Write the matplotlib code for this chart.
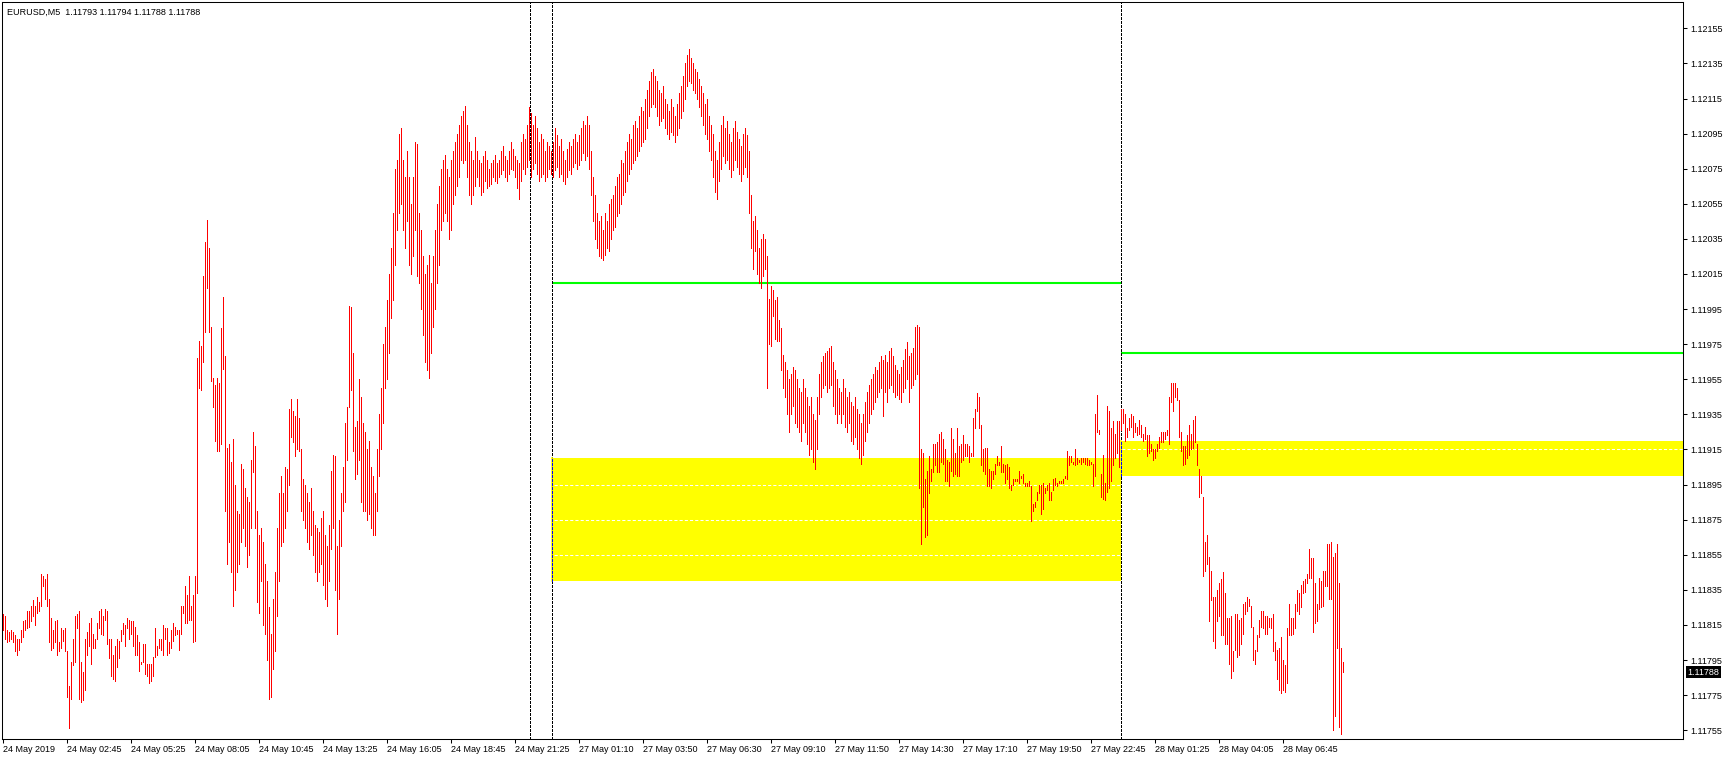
import numpy as np
import matplotlib
matplotlib.use("Agg")
import matplotlib.pyplot as plt
from matplotlib.transforms import blended_transform_factory

# chart header
symbol = "EURUSD,M5"
last_ohlc = [1.11793, 1.11794, 1.11788, 1.11788]
last_price = 1.11788

# bar highs / lows in points (0.00001) above 1.11000, one per M5 bar
base = 1.11
high_pts = [
    821, 820, 812, 811, 812, 811, 809, 807, 807, 812,      # 0
    817, 818, 823, 823, 826, 829, 826, 831, 828, 844,
    843, 841, 844, 830, 819, 812, 817, 818, 805, 813,
    812, 813, 800, 780, 794, 807, 820, 821, 823, 794,
    788, 807, 811, 816, 819, 810, 807, 816, 823, 824,
    820, 824, 823, 807, 807, 798, 803, 807, 806, 812,      # 50
    816, 815, 819, 818, 817, 817, 814, 809, 805, 794,
    804, 804, 793, 793, 793, 797, 813, 803, 807, 807,
    815, 813, 813, 805, 812, 816, 814, 812, 812, 826,
    826, 837, 832, 843, 826, 832, 843, 967, 977, 974,
    1014, 1033, 1046, 1030, 985, 956, 952, 956, 953, 984,  # 100
    1002, 968, 916, 918, 908, 921, 895, 880, 878, 907,
    904, 893, 888, 885, 909, 925, 917, 880, 866, 870,
    862, 850, 840, 825, 810, 830, 845, 870, 890, 900,
    890, 905, 904, 938, 944, 937, 934, 944, 933, 915,
    898, 895, 890, 885, 893, 880, 872, 870, 868, 876,      # 150
    880, 866, 860, 872, 903, 912, 911, 860, 875, 890,
    905, 930, 939, 997, 996, 970, 928, 931, 955, 945,
    930, 925, 915, 920, 905, 900, 890, 915, 935, 950,
    975, 985, 1000, 1015, 1030, 1050, 1075, 1080, 1095, 1098,
    1080, 1070, 1085, 1070, 1055, 1070, 1090, 1089, 1050, 1040,  # 200
    1025, 1015, 1020, 1026, 1010, 1025, 1040, 1055, 1065, 1075,
    1080, 1083, 1075, 1070, 1080, 1085, 1090, 1095, 1100, 1105,
    1108, 1111, 1100, 1090, 1085, 1080, 1093, 1085, 1080, 1078,
    1082, 1085, 1080, 1075, 1078, 1080, 1083, 1078, 1080, 1085,
    1088, 1082, 1080, 1085, 1090, 1086, 1082, 1080, 1078, 1090,  # 250
    1095, 1092, 1100, 1110, 1107, 1100, 1105, 1098, 1090, 1095,
    1092, 1085, 1090, 1088, 1085, 1090, 1098, 1094, 1088, 1092,
    1085, 1080, 1086, 1090, 1088, 1092, 1095, 1090, 1094, 1098,
    1102, 1100, 1105, 1100, 1085, 1070, 1060, 1050, 1045, 1048,
    1040, 1050, 1045, 1055, 1058, 1060, 1065, 1070, 1072, 1080,  # 300
    1078, 1085, 1090, 1095, 1092, 1100, 1102, 1098, 1105, 1110,
    1108, 1115, 1120, 1125, 1130, 1132, 1128, 1125, 1120, 1118,
    1122, 1115, 1112, 1108, 1115, 1110, 1105, 1112, 1118, 1122,
    1128, 1135, 1140, 1143, 1138, 1135, 1132, 1130, 1126, 1122,
    1118, 1112, 1115, 1105, 1100, 1095, 1085, 1080, 1090, 1100,  # 350
    1105, 1098, 1102, 1095, 1090, 1098, 1102, 1096, 1092, 1088,
    1095, 1098, 1094, 1085, 1060, 1045, 1048, 1040, 1030, 1035,
    1038, 1035, 1025, 1001, 1008, 1006, 1000, 1002, 989, 984,
    969, 965, 960, 955, 958, 962, 960, 955, 950, 948,
    955, 950, 945, 940, 945, 935, 932, 945, 958, 965,      # 400
    968, 970, 971, 973, 974, 965, 960, 955, 950, 948,
    955, 950, 945, 948, 942, 940, 945, 938, 935, 930,
    935, 942, 948, 952, 955, 958, 962, 960, 965, 968,
    966, 969, 965, 971, 973, 968, 963, 960, 958, 962,
    966, 972, 976, 968, 970, 973, 985, 986, 985, 915,      # 450
    913, 898, 903, 911, 904, 918, 918, 919, 924, 925,
    921, 915, 909, 908, 927, 921, 913, 927, 917, 918,
    923, 918, 918, 917, 913, 933, 938, 947, 945, 929,
    915, 916, 916, 904, 903, 903, 907, 911, 908, 917,
    907, 906, 907, 905, 895, 898, 898, 898, 903, 900,      # 500
    901, 896, 896, 897, 894, 884, 885, 891, 895, 895,
    896, 893, 895, 896, 891, 898, 899, 896, 897, 897,
    898, 900, 914, 911, 911, 908, 915, 910, 909, 910,
    910, 910, 910, 909, 908, 907, 935, 946, 926, 901,
    912, 896, 940, 937, 927, 931, 924, 931, 931, 938,      # 550
    938, 935, 927, 933, 935, 934, 930, 928, 932, 929,
    924, 928, 923, 923, 918, 915, 915, 918, 922, 925,
    925, 925, 926, 945, 953, 953, 953, 950, 943, 925,
    917, 917, 923, 929, 924, 932, 934, 918, 904, 900,
    888, 862, 866, 854, 846, 831, 831, 835, 839, 841,      # 600
    845, 833, 819, 819, 820, 800, 821, 821, 818, 819,
    827, 828, 831, 830, 826, 814, 801, 809, 818, 823,
    823, 820, 820, 819, 819, 821, 805, 801, 802, 808,
    795, 792, 813, 827, 819, 819, 827, 835, 833, 838,
    840, 841, 844, 858, 853, 853, 839, 827, 842, 840,      # 650
    846, 846, 861, 861, 862, 854, 856, 861, 839, 802,
    794,
]
low_pts = [
    812, 807, 805, 806, 807, 805, 800, 798, 801, 805,      # 0
    808, 812, 813, 814, 817, 820, 815, 822, 823, 826,
    837, 830, 826, 805, 801, 802, 805, 798, 800, 802,
    806, 800, 774, 756, 773, 792, 794, 813, 773, 771,
    772, 778, 798, 803, 793, 802, 802, 807, 813, 810,
    809, 818, 804, 796, 786, 784, 783, 791, 796, 806,      # 50
    810, 803, 813, 807, 810, 803, 798, 798, 789, 793,
    794, 787, 786, 782, 783, 786, 797, 798, 802, 801,
    798, 807, 798, 799, 802, 806, 809, 810, 801, 810,
    822, 816, 816, 818, 818, 805, 806, 833, 950, 949,
    965, 982, 1007, 982, 954, 939, 920, 914, 914, 918,     # 100
    961, 880, 850, 862, 845, 826, 835, 845, 850, 862,
    870, 860, 848, 855, 870, 902, 870, 828, 822, 840,
    815, 810, 795, 773, 774, 790, 800, 820, 840, 860,
    862, 870, 880, 895, 922, 919, 911, 915, 914, 880,
    875, 870, 862, 858, 866, 855, 845, 840, 845, 850,      # 150
    838, 830, 826, 840, 858, 870, 835, 810, 830, 860,
    880, 885, 909, 939, 949, 914, 898, 901, 909, 885,
    880, 880, 875, 878, 870, 866, 866, 880, 900, 915,
    930, 950, 955, 970, 990, 1000, 1020, 1040, 1050, 1055,
    1040, 1030, 1045, 1020, 1015, 1025, 1040, 1014, 1010, 995,  # 200
    980, 965, 960, 956, 970, 985, 995, 1010, 1020, 1040,
    1045, 1050, 1045, 1035, 1040, 1055, 1060, 1065, 1070, 1080,
    1078, 1080, 1070, 1060, 1055, 1060, 1065, 1070, 1065, 1060,
    1062, 1068, 1064, 1065, 1066, 1070, 1068, 1067, 1070, 1072,
    1074, 1070, 1068, 1072, 1075, 1074, 1070, 1064, 1058, 1068,  # 250
    1075, 1072, 1076, 1080, 1070, 1075, 1078, 1072, 1068, 1070,
    1072, 1068, 1070, 1075, 1072, 1070, 1074, 1076, 1070, 1072,
    1068, 1066, 1070, 1074, 1072, 1076, 1078, 1075, 1077, 1080,
    1084, 1080, 1082, 1075, 1060, 1045, 1035, 1030, 1025, 1024,
    1023, 1026, 1030, 1028, 1035, 1040, 1042, 1048, 1050, 1055,  # 300
    1060, 1062, 1068, 1072, 1075, 1078, 1080, 1082, 1085, 1088,
    1090, 1092, 1098, 1105, 1110, 1112, 1110, 1105, 1100, 1102,
    1104, 1098, 1095, 1092, 1096, 1094, 1090, 1094, 1098, 1104,
    1108, 1115, 1122, 1125, 1124, 1120, 1118, 1115, 1110, 1105,
    1100, 1095, 1092, 1085, 1080, 1070, 1062, 1058, 1068, 1075,  # 350
    1082, 1078, 1080, 1075, 1070, 1074, 1080, 1076, 1072, 1068,
    1072, 1076, 1070, 1050, 1030, 1018, 1028, 1015, 1010, 1007,
    1014, 1018, 950, 975, 974, 991, 978, 977, 977, 960,
    950, 945, 935, 925, 935, 940, 930, 928, 925, 920,
    930, 925, 918, 912, 915, 908, 904, 915, 935, 945,      # 400
    950, 952, 948, 950, 952, 940, 935, 930, 935, 930,
    935, 928, 925, 930, 920, 918, 922, 915, 910, 907,
    912, 920, 925, 930, 935, 938, 942, 945, 948, 950,
    934, 948, 942, 950, 952, 948, 945, 946, 944, 942,
    948, 950, 955, 942, 950, 952, 955, 958, 893, 861,      # 450
    882, 865, 866, 890, 897, 902, 906, 902, 902, 908,
    907, 897, 897, 894, 903, 900, 901, 900, 900, 908,
    909, 911, 911, 908, 911, 911, 927, 937, 927, 906,
    903, 901, 894, 894, 893, 898, 901, 906, 906, 902,
    902, 896, 898, 893, 892, 895, 897, 897, 896, 899,      # 500
    896, 894, 894, 894, 874, 880, 882, 886, 890, 878,
    881, 890, 892, 886, 886, 892, 895, 894, 896, 896,
    896, 899, 898, 906, 908, 907, 906, 907, 908, 907,
    908, 907, 906, 906, 907, 894, 900, 925, 924, 888,
    887, 886, 891, 893, 897, 906, 910, 913, 905, 926,      # 550
    930, 920, 922, 926, 928, 922, 925, 923, 924, 922,
    920, 921, 911, 913, 914, 909, 910, 914, 916, 919,
    919, 921, 923, 918, 942, 937, 945, 943, 922, 914,
    906, 907, 910, 912, 915, 916, 919, 906, 888, 890,
    843, 846, 850, 817, 829, 806, 802, 817, 820, 809,      # 600
    809, 804, 804, 793, 785, 789, 801, 797, 798, 804,
    810, 821, 823, 826, 814, 795, 793, 800, 808, 814,
    813, 810, 810, 814, 813, 800, 795, 784, 778, 776,
    778, 777, 782, 809, 809, 810, 813, 823, 821, 825,
    833, 834, 839, 842, 842, 811, 816, 817, 824, 825,      # 650
    826, 837, 837, 830, 830, 755, 763, 802, 757, 753,
    788,
]

# time axis labels, one every 32 bars
time_labels = [
    "24 May 2019", "24 May 02:45", "24 May 05:25", "24 May 08:05",
    "24 May 10:45", "24 May 13:25", "24 May 16:05", "24 May 18:45",
    "24 May 21:25", "27 May 01:10", "27 May 03:50", "27 May 06:30",
    "27 May 09:10", "27 May 11:50", "27 May 14:30", "27 May 17:10",
    "27 May 19:50", "27 May 22:45", "28 May 01:25", "28 May 04:05",
    "28 May 06:45",
]
label_step = 32

# chart objects (bar index positions, prices)
vline_bars = [263.5, 274.25, 559.15]
zone_start = [274.25, 559.15]
zone_end = [559.15, 840]
zone_low = [1.11840, 1.11900]
zone_high = [1.11910, 1.11920]
level_start = [274.25, 559.15]
level_end = [559.15, 840]
level_price = [1.12010, 1.11970]

W, H = 1729, 760
plt.rcParams['font.family'] = ['Liberation Sans', 'DejaVu Sans']
fs = 6.5

fig = plt.figure(figsize=(W / 100, H / 100), dpi=100)
fig.patch.set_facecolor('white')
ax = fig.add_axes([2 / W, 21 / H, 1681 / W, 737 / H])

hi = base + np.array(high_pts) / 1e5
lo = base + np.array(low_pts) / 1e5
x = np.arange(len(hi))

# support / resistance zones
for x0, x1, y0, y1 in zip(zone_start, zone_end, zone_low, zone_high):
    ax.add_patch(plt.Rectangle((x0, y0), x1 - x0, y1 - y0,
                               facecolor='#ffff00', edgecolor='none', zorder=1))

# horizontal levels
for x0, x1, p in zip(level_start, level_end, level_price):
    ax.plot([x0, x1], [p, p], color='#00ff00', lw=1.5, zorder=2.2,
            solid_capstyle='butt')

# bars, 1 px wide
ax.vlines(x, lo, hi, colors='#ff0000', linewidth=0.5, antialiased=False, zorder=3)

# vertical separators, blue where they cross the zones
ax.vlines(vline_bars, 1.1175, 1.1217, colors='black', linewidth=0.6,
          linestyles=(0, (3, 2)), antialiased=False, zorder=2.5)
for x0, y0, y1 in zip(zone_start, zone_low, zone_high):
    ax.plot([x0, x0], [y0, y1], color='#ffff00', lw=1.2, zorder=2.6)
    ax.plot([x0, x0], [y0, y1], color='#0000ff', lw=0.6,
            linestyle=(0, (3, 2)), antialiased=False, zorder=2.7)

ax.set_xlim(-0.5, 840)
ax.set_ylim(1.11750, 1.12170)

# white grid shows only over the yellow zones
yt = np.arange(1.11755, 1.12160, 0.0002)
ax.set_yticks(yt)
ax.set_yticklabels([f"{v:.5f}" for v in yt])
ax.set_axisbelow('line')
ax.yaxis.grid(True, color='white', linewidth=0.75, linestyle=(0, (3, 2)))

ax.yaxis.tick_right()
ax.tick_params(axis='y', direction='out', length=3, width=0.75, pad=2,
               labelsize=fs, colors='black')

xt = np.arange(len(time_labels)) * label_step
ax.set_xticks(xt)
ax.set_xticklabels(time_labels, ha='left')
ax.tick_params(axis='x', direction='out', length=3, width=0.75, pad=1,
               labelsize=fs, colors='black')

for s in ax.spines.values():
    s.set_linewidth(0.75)
    s.set_color('black')

# current price tag
tr = blended_transform_factory(ax.transAxes, ax.transData)
ax.text(1.0028, last_price, f"{last_price:.5f}", transform=tr, color='white',
        fontsize=fs, ha='left', va='center', zorder=5,
        bbox=dict(boxstyle='square,pad=0.18', fc='black', ec='none'))

# header
hdr = symbol + "  " + " ".join(f"{v:.5f}" for v in last_ohlc)
fig.text(7 / W, 1 - 12 / H, hdr, fontsize=fs, ha='left', va='center')

fig.savefig("out.png", dpi=100, facecolor='white')
